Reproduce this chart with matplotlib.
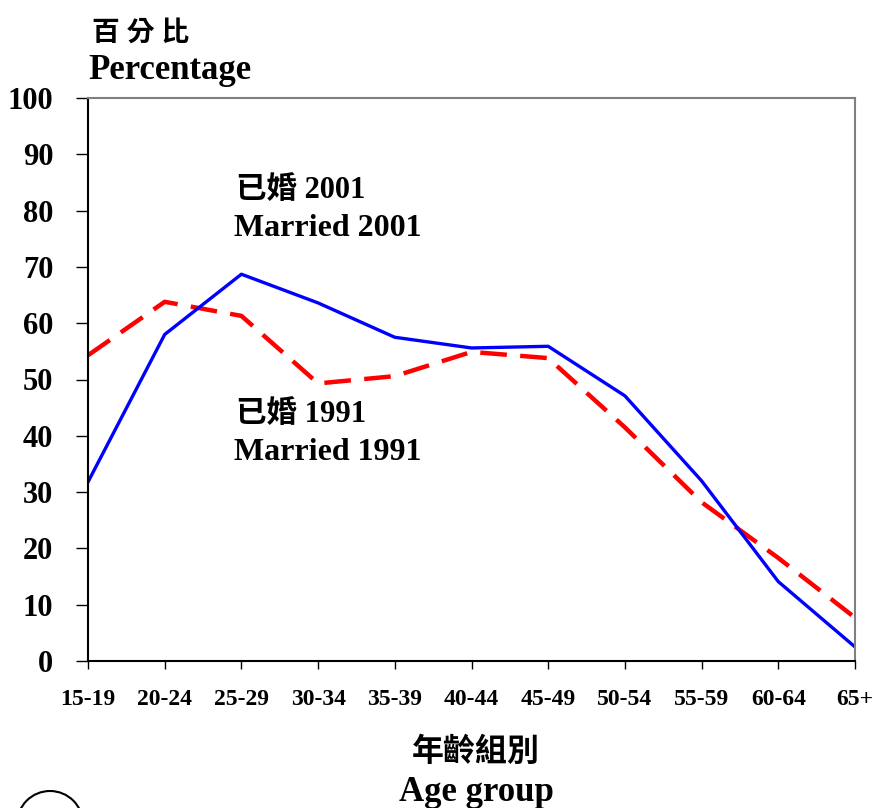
import matplotlib.pyplot as plt
from matplotlib.patches import Ellipse

age_groups = ["15-19", "20-24", "25-29", "30-34", "35-39", "40-44",
              "45-49", "50-54", "55-59", "60-64", "65+"]
married_2001 = [31.8, 58.0, 68.7, 63.6, 57.5, 55.6, 55.9, 47.1, 32.0, 14.1, 2.5]
married_1991 = [54.3, 63.8, 61.3, 49.3, 50.6, 54.9, 53.8, 41.5, 28.2, 18.3, 7.7]
y_ticks = [0, 10, 20, 30, 40, 50, 60, 70, 80, 90, 100]

W, H = 874, 808
serif = ["Liberation Serif", "Noto Sans CJK TC"]

fig = plt.figure(figsize=(W / 100, H / 100), dpi=100)
ax = fig.add_axes([88 / W, 1 - 661 / H, (855 - 88) / W, (661 - 98) / H])

x = list(range(len(age_groups)))
ax.plot(x, married_1991, color="red", linewidth=3.2, dashes=(6, 3))
ax.plot(x, married_2001, color="blue", linewidth=2.4)

ax.set_xlim(0, len(age_groups) - 1)
ax.set_ylim(0, 100)
ax.set_xticks(x)
ax.set_xticklabels(age_groups, family=serif, fontweight="bold", fontsize=17)
ax.set_yticks(y_ticks)
ax.set_yticklabels([str(v) for v in y_ticks], family=serif, fontweight="bold", fontsize=22)
ax.tick_params(axis="x", length=6, width=1, pad=14)
ax.tick_params(axis="y", length=9, width=1, pad=16)

for s in ["top", "right"]:
    ax.spines[s].set_color("#808080")
    ax.spines[s].set_linewidth(1.5)
for s in ["left", "bottom"]:
    ax.spines[s].set_color("black")
    ax.spines[s].set_linewidth(1.5)

def ftext(px, py, s, size):
    fig.text(px / W, 1 - py / H, s, family=serif, fontweight="bold",
             fontsize=size, va="baseline", ha="left")

ftext(92, 41, "百 分 比", 20)
ftext(88, 79, "Percentage", 25)
ftext(236, 198, "已婚 2001", 22)
ftext(234, 236, "Married 2001", 23)
ftext(236, 422, "已婚 1991", 22)
ftext(234, 460, "Married 1991", 23)
fig.text(476 / W, 1 - 761 / H, "年齡組別", family=serif, fontweight="bold",
         fontsize=23, ha="center", va="baseline")
fig.text(476 / W, 1 - 801 / H, "Age group", family=serif, fontweight="bold",
         fontsize=25, ha="center", va="baseline")

fig.patches.append(Ellipse((50 / W, 1 - 824 / H), 66 / W, 66 / H,
                           transform=fig.transFigure, fill=False,
                           edgecolor="black", linewidth=1.5))

fig.savefig("out.png", dpi=100)
